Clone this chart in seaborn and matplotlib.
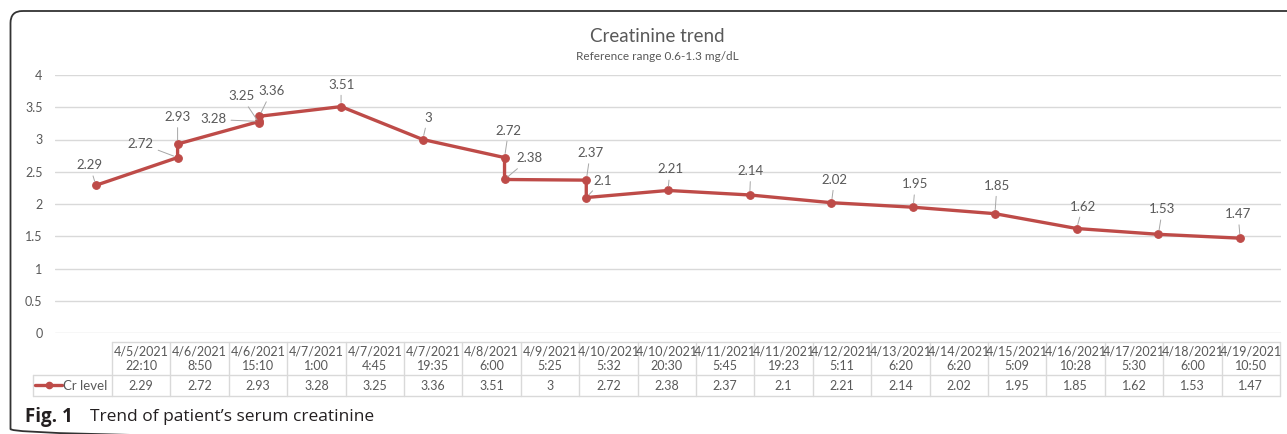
import numpy as np
import pandas as pd
import matplotlib
matplotlib.use("Agg")
import matplotlib.pyplot as plt
from matplotlib.patches import FancyBboxPatch
from matplotlib.lines import Line2D
import seaborn as sns

# ---------------- data ----------------
dates = ["4/5/2021", "4/6/2021", "4/6/2021", "4/7/2021", "4/7/2021", "4/7/2021",
         "4/8/2021", "4/9/2021", "4/10/2021", "4/10/2021", "4/11/2021", "4/11/2021",
         "4/12/2021", "4/13/2021", "4/14/2021", "4/15/2021", "4/16/2021", "4/17/2021",
         "4/18/2021", "4/19/2021"]
times = ["22:10", "8:50", "15:10", "1:00", "4:45", "19:35", "6:00", "5:25", "5:32",
         "20:30", "5:45", "19:23", "5:11", "6:20", "6:20", "5:09", "10:28", "5:30",
         "6:00", "10:50"]
cr_level = [2.29, 2.72, 2.93, 3.28, 3.25, 3.36, 3.51, 3, 2.72, 2.38, 2.37, 2.1,
            2.21, 2.14, 2.02, 1.95, 1.85, 1.62, 1.53, 1.47]
series_name = "Cr level"
title = "Creatinine trend"
subtitle = "Reference range 0.6-1.3 mg/dL"
y_ticks = [0, 0.5, 1, 1.5, 2, 2.5, 3, 3.5, 4]

# label offsets (pixels) for the data labels, layout only
label_offsets = [(-6, 20), (-37, 14), (0, 27), (-46, 2), (-18, 27), (12, 25),
                 (0, 22), (5, 22), (4, 27), (25, 21), (4, 27), (16, 17),
                 (2, 21), (1, 24), (3, 23), (2, 23), (2, 28), (6, 22), (4, 25), (-2, 24)]

# Excel date axis: points plotted by calendar day
dt = pd.to_datetime(dates, format="%m/%d/%Y")
day = (dt - dt.min()).days
df = pd.DataFrame({"day": day, "value": cr_level})

W, H = 1287, 434
LINE_C = "#be4b48"
TXT_C = "#595959"
GRID_C = "#d9d9d9"
FONT = ["Lato", "DejaVu Sans"]

sns.set_theme(style="white")
plt.rcParams["font.family"] = FONT

fig = plt.figure(figsize=(W / 100, H / 100), dpi=100)

# overlay axes in pixel coordinates
ov = fig.add_axes([0, 0, 1, 1], zorder=0)
ov.set_xlim(0, W)
ov.set_ylim(H, 0)
ov.axis("off")

# rounded border (right and bottom run off the canvas)
ov.add_patch(FancyBboxPatch((10.5, 11), 1400, 430, boxstyle="round,pad=0,rounding_size=12",
                            fill=False, ec="#333333", lw=1.3, clip_on=True))

# main plot area
left_px, right_px, top_px, bot_px = 55, 1281, 75, 333
ax = fig.add_axes([left_px / W, 1 - bot_px / H, (right_px - left_px) / W, (bot_px - top_px) / H],
                  zorder=2)
ax.patch.set_alpha(0)

sns.lineplot(data=df, x="day", y="value", ax=ax, sort=False, estimator=None,
             color=LINE_C, linewidth=2.4, marker="o", markersize=5.5,
             markeredgecolor=LINE_C, markeredgewidth=0.8, clip_on=False)

ax.set_xlim(-0.5, day.max() + 0.5)
ax.set_ylim(0, 4)
ax.set_yticks(y_ticks)
ax.set_yticklabels([f"{t:g}" for t in y_ticks])
ax.set_xticks([])
ax.set_xlabel("")
ax.set_ylabel("")
ax.grid(axis="y", color=GRID_C, lw=1)
ax.tick_params(axis="y", length=0, pad=9, labelsize=9, labelcolor=TXT_C)
for s in ax.spines.values():
    s.set_visible(False)

for (x, y, (dx, dy)) in zip(day, cr_level, label_offsets):
    ax.annotate(f"{y:g}", xy=(x, y), xytext=(dx, dy), textcoords="offset pixels",
                ha="center", va="center", fontsize=9.5, color=TXT_C,
                arrowprops=dict(arrowstyle="-", color="#a6a6a6", lw=0.7,
                                shrinkA=1, shrinkB=3), annotation_clip=False)

# titles
fig.text(657 / W, 1 - 37 / H, title, ha="center", va="center", fontsize=13.5, color=TXT_C)
fig.text(657 / W, 1 - 57 / H, subtitle, ha="center", va="center", fontsize=8.5, color=TXT_C)

# data table
n = len(cr_level)
col0, colw = 112, 58.4
t_top, t_mid, t_bot = 342, 375, 396
leg_left = 33
tbl_c = "#d9d9d9"
ov.plot([col0, col0 + n * colw], [t_top, t_top], color=tbl_c, lw=1)
ov.plot([leg_left, col0 + n * colw], [t_mid, t_mid], color=tbl_c, lw=1)
ov.plot([leg_left, col0 + n * colw], [t_bot, t_bot], color=tbl_c, lw=1)
ov.plot([leg_left, leg_left], [t_mid, t_bot], color=tbl_c, lw=1)
for i in range(n + 1):
    xx = col0 + i * colw
    ov.plot([xx, xx], [t_top, t_bot], color=tbl_c, lw=1)
for i, (d, tm, v) in enumerate(zip(dates, times, cr_level)):
    cx = col0 + (i + 0.5) * colw
    ov.text(cx, 351, d, ha="center", va="center", fontsize=9, color=TXT_C)
    ov.text(cx, 366, tm, ha="center", va="center", fontsize=9, color=TXT_C)
    ov.text(cx, 385.5, f"{v:g}", ha="center", va="center", fontsize=9, color=TXT_C)

# legend key in table
ov.add_line(Line2D([35, 62], [385, 385], color=LINE_C, lw=2.4))
ov.add_line(Line2D([49], [385], color=LINE_C, marker="o", markersize=4.5))
ov.text(63, 385.5, series_name, ha="left", va="center", fontsize=9.5, color=TXT_C)

# caption
fig.text(25 / W, 1 - 417 / H, "Fig. 1", ha="left", va="center", fontsize=13.5,
         fontweight="bold", color="#231f20", family=["Open Sans", "DejaVu Sans"])
fig.text(90 / W, 1 - 417 / H, "Trend of patient\u2019s serum creatinine", ha="left",
         va="center", fontsize=12.5, color="#231f20", family=["Open Sans", "DejaVu Sans"])

fig.savefig("out.png", dpi=100)
